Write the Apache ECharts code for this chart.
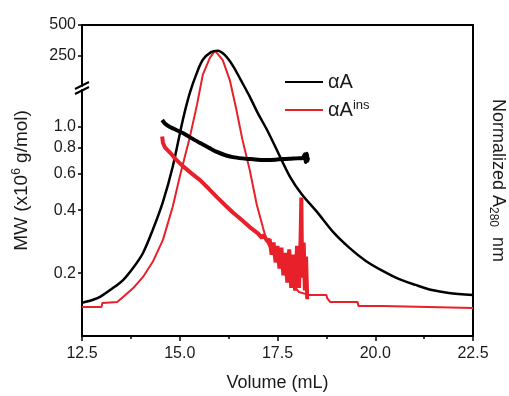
<!DOCTYPE html>
<html>
<head>
<meta charset="utf-8">
<script src="https://cdn.jsdelivr.net/npm/echarts@6/dist/echarts.min.js"></script>
<style>html,body{margin:0;padding:0;background:#fff}#c{width:509px;height:396px}</style>
</head>
<body>
<div id="c"></div>
<script>
// ---- data ----
var xTicks = [12.5, 15.0, 17.5, 20.0, 22.5];
var mwTicks = [0.2, 0.4, 0.6, 0.8, 1.0];
var topTicks = [250, 500];

// Normalized A280 elution profiles
var blackAbsVol = [12.5,12.8,12.96,13.29,13.55,13.81,14.06,14.31,14.57,14.82,15.08,15.26,15.44,15.59,15.8,15.97,16.15,16.36,16.57,16.79,17.0,17.23,17.48,17.82,18.13,18.51,18.92,19.34,19.76,20.19,20.6,21.03,21.45,21.88,22.5];
var blackAbsVal = [0.116,0.128,0.137,0.168,0.196,0.239,0.291,0.372,0.47,0.593,0.758,0.853,0.923,0.968,0.995,1.0,0.985,0.947,0.895,0.839,0.78,0.723,0.653,0.558,0.495,0.435,0.365,0.309,0.263,0.228,0.2,0.179,0.161,0.151,0.144];

var redAbsVol = [12.5,13.0,13.02,13.4,13.55,13.81,14.06,14.31,14.57,14.82,15.0,15.26,15.44,15.59,15.77,15.9,16.1,16.28,16.45,16.6,16.79,16.97,17.13,17.23,17.5,17.8,18.05,18.3,18.75,18.77,18.85,19.55,19.57,20.2,20.22,22.5];
var redAbsVal = [0.102,0.102,0.116,0.119,0.137,0.168,0.207,0.26,0.337,0.453,0.558,0.698,0.81,0.916,0.975,1.0,0.967,0.897,0.792,0.69,0.582,0.46,0.379,0.33,0.26,0.196,0.154,0.144,0.144,0.133,0.119,0.119,0.105,0.105,0.098,0.098];

// Molar mass (x10^6 g/mol)
var blackMwVol = [14.55,14.62,14.75,15.08,15.3,15.52,15.75,15.95,16.15,16.36,16.6,16.79,17.0,17.23,17.45,17.64,17.85,18.0,18.15,18.2,18.22,18.25,18.27,18.28];
var blackMwVal = [1.08,1.04,1.0,0.936,0.885,0.838,0.795,0.76,0.735,0.718,0.708,0.703,0.698,0.695,0.698,0.703,0.706,0.708,0.712,0.74,0.68,0.745,0.69,0.715];

var redMwVol = [14.55,14.57,14.62,14.75,14.9,15.08,15.3,15.52,15.75,15.95,16.15,16.36,16.58,16.79,17.0,17.1,17.15,17.23,17.3,17.35,17.4,17.45,17.5,17.55,17.6,17.65,17.7,17.75,17.8,17.85,17.9,17.95,18.0,18.05,18.09,18.11,18.13,18.17,18.2,18.23,18.26];
var redMwVal = [0.9,0.84,0.8,0.755,0.7,0.65,0.6,0.557,0.505,0.462,0.425,0.39,0.36,0.332,0.31,0.295,0.305,0.285,0.29,0.245,0.28,0.225,0.27,0.21,0.265,0.195,0.25,0.18,0.26,0.17,0.245,0.165,0.27,0.17,0.29,0.46,0.19,0.28,0.165,0.24,0.15];

function pairs(xs, ys){ var out=[]; for(var i=0;i<xs.length;i++){ out.push([xs[i], ys[i]]); } return out; }

var RED = '#e8202a';
var FONT = 'Liberation Sans';
var TXT = '#1a1a1a';

var chart = echarts.init(document.getElementById('c'), null, {renderer:'canvas'});
var xMin = 12.5, xMax = 22.5;

var option = {
  animation: false,
  backgroundColor: '#fff',
  textStyle: {fontFamily: FONT},
  grid: [
    {left: 82, right: 36, top: 25, bottom: 60, outerBoundsMode: 'none'},
    {left: 82, right: 36, top: 25, bottom: 310, outerBoundsMode: 'none'},
    {left: 82, right: 36, top: 90, bottom: 60, outerBoundsMode: 'none'}
  ],
  legend: {
    data: ['αA', 'αAins'],
    orient: 'vertical',
    left: 280, top: 66,
    itemWidth: 38, itemHeight: 12, itemGap: 6,
    icon: 'path://M0,5 L40,5 L40,7 L0,7 Z',
    textStyle: {
      fontFamily: FONT, fontSize: 20, color: TXT, lineHeight: 22,
      rich: { sup: {fontSize: 13, lineHeight: 13, verticalAlign: 'top', fontFamily: FONT, color: TXT} }
    },
    formatter: function(n){ return n === 'αAins' ? 'αA{sup|ins}' : n; }
  },
  xAxis: [
    {
      gridIndex: 0, type: 'value', min: xMin, max: xMax, interval: 2.5, position: 'bottom',
      name: 'Volume (mL)', nameLocation: 'middle', nameGap: 38,
      nameTextStyle: {fontFamily: FONT, fontSize: 18, color: TXT},
      axisLine: {show: true, onZero: false, lineStyle: {color: '#000', width: 2}},
      axisTick: {show: true, length: 5, lineStyle: {color: '#000', width: 1.5}},
      minorTick: {show: true, splitNumber: 2, length: 3, lineStyle: {color: '#000', width: 1.5}},
      axisLabel: {fontFamily: FONT, fontSize: 16, color: TXT, margin: 10,
        formatter: function(v){ return v.toFixed(1); }},
      splitLine: {show: false}
    },
    {
      gridIndex: 0, type: 'value', min: xMin, max: xMax, position: 'top',
      axisLine: {show: true, onZero: false, lineStyle: {color: '#000', width: 2}},
      axisTick: {show: false}, axisLabel: {show: false}, splitLine: {show: false}
    },
    {gridIndex: 1, type: 'value', min: xMin, max: xMax, show: false},
    {gridIndex: 2, type: 'value', min: xMin, max: xMax, show: false}
  ],
  yAxis: [
    {
      gridIndex: 0, type: 'value', min: 0, max: 1.09, position: 'right',
      name: 'Normalized A{sub|280}  nm', nameLocation: 'middle', nameRotate: -90, nameGap: 14,
      nameTextStyle: {fontFamily: FONT, fontSize: 18, color: TXT, lineHeight: 22,
        rich: {sub: {fontSize: 12, lineHeight: 12, verticalAlign: 'bottom', fontFamily: FONT, color: TXT}}},
      axisLine: {show: true, onZero: false, lineStyle: {color: '#000', width: 2}},
      axisTick: {show: false}, axisLabel: {show: false}, splitLine: {show: false}
    },
    {
      gridIndex: 0, type: 'value', min: 0, max: 1, position: 'left',
      name: 'MW (x10{sup|6} g/mol)', nameLocation: 'middle', nameRotate: 90, nameGap: 49,
      nameTextStyle: {fontFamily: FONT, fontSize: 19, color: TXT, lineHeight: 22,
        rich: {sup: {fontSize: 12, lineHeight: 12, verticalAlign: 'top', fontFamily: FONT, color: TXT}}},
      axisLine: {show: false}, axisTick: {show: false}, axisLabel: {show: false}, splitLine: {show: false}
    },
    {
      gridIndex: 1, type: 'value', min: 0, max: 500, interval: 250, position: 'left',
      axisLine: {show: true, onZero: false, lineStyle: {color: '#000', width: 2}},
      axisTick: {show: true, length: 4, lineStyle: {color: '#000', width: 1.5},
        customValues: topTicks},
      axisLabel: {fontFamily: FONT, fontSize: 16, color: TXT, margin: 6, customValues: topTicks},
      splitLine: {show: false}
    },
    {
      gridIndex: 2, type: 'log', logBase: 10, min: 0.1, max: 1.504, position: 'left',
      axisLine: {show: true, onZero: false, lineStyle: {color: '#000', width: 2}},
      axisTick: {show: true, length: 4, lineStyle: {color: '#000', width: 1.5}, customValues: mwTicks},
      axisLabel: {fontFamily: FONT, fontSize: 16, color: TXT, margin: 6, customValues: mwTicks,
        formatter: function(v){ return Number(v).toFixed(1); }},
      minorTick: {show: false},
      splitLine: {show: false}
    }
  ],
  graphic: [
    {type: 'line', shape: {x1: 75, y1: 89, x2: 89, y2: 82}, style: {stroke: '#000', lineWidth: 2}, z: 100},
    {type: 'line', shape: {x1: 75, y1: 94, x2: 89, y2: 87}, style: {stroke: '#000', lineWidth: 2}, z: 100}
  ],
  series: [
    {name: 'αAins', type: 'line', xAxisIndex: 0, yAxisIndex: 0, symbol: 'none',
     data: pairs(redAbsVol, redAbsVal), lineStyle: {color: RED, width: 2}, itemStyle: {color: RED}, z: 2},
    {name: 'αA', type: 'line', xAxisIndex: 0, yAxisIndex: 0, symbol: 'none', smooth: 0.3,
     data: pairs(blackAbsVol, blackAbsVal), lineStyle: {color: '#000', width: 2.5}, itemStyle: {color: '#000'}, z: 3},
    {name: 'αAins MW', type: 'line', xAxisIndex: 3, yAxisIndex: 3, symbol: 'none',
     data: pairs(redMwVol, redMwVal), lineStyle: {color: RED, width: 4}, itemStyle: {color: RED}, z: 4},
    {name: 'αA MW', type: 'line', xAxisIndex: 3, yAxisIndex: 3, symbol: 'none', smooth: 0.2,
     data: pairs(blackMwVol, blackMwVal), lineStyle: {color: '#000', width: 4}, itemStyle: {color: '#000'}, z: 5}
  ]
};
chart.setOption(option);
</script>
</body>
</html>
